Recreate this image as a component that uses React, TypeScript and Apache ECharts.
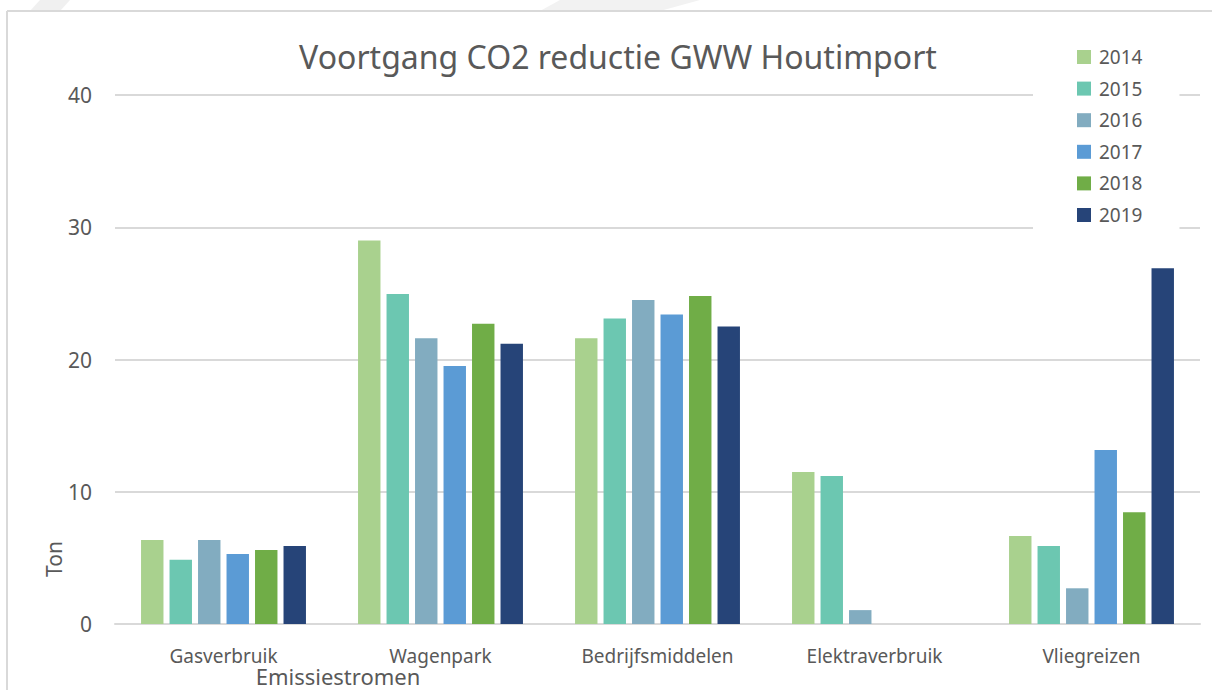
import React, { useEffect, useRef } from "react";
import * as echarts from "echarts";

const categories = ["Gasverbruik", "Wagenpark", "Bedrijfsmiddelen", "Elektraverbruik", "Vliegreizen"];
const years = ["2014", "2015", "2016", "2017", "2018", "2019"];
const v2014 = [6.35, 29.0, 21.6, 11.5, 6.65];
const v2015 = [4.85, 24.95, 23.1, 11.2, 5.9];
const v2016 = [6.35, 21.6, 24.5, 1.05, 2.7];
const v2017 = [5.3, 19.5, 23.4, 0, 13.15];
const v2018 = [5.6, 22.7, 24.8, 0, 8.45];
const v2019 = [5.9, 21.2, 22.5, 0, 26.9];
const seriesValues = [v2014, v2015, v2016, v2017, v2018, v2019];
const colors = ["#a9d18e", "#6cc7b1", "#82acc0", "#5b9bd5", "#70ad47", "#264478"];
const yTicks = [0, 10, 20, 30, 40];

const FONT = "'Noto Sans', 'Open Sans', sans-serif";
const TXT = "#595959";

export default function App() {
  const ref = useRef<HTMLDivElement>(null);
  useEffect(() => {
    if (!ref.current) return;
    const chart = echarts.init(ref.current, undefined, { renderer: "svg" });
    chart.setOption({
      animation: false,
      backgroundColor: "#ffffff",
      textStyle: { fontFamily: FONT },
      title: {
        text: "Voortgang CO2 reductie GWW Houtimport",
        left: 613,
        textAlign: "center",
        top: 35,
        textStyle: { fontFamily: FONT, fontSize: 32, fontWeight: "normal", color: TXT },
      },
      legend: {
        orient: "vertical",
        left: 1033,
        top: 40,
        padding: [7, 37, 10, 44],
        backgroundColor: "#ffffff",
        itemWidth: 14,
        itemHeight: 14,
        itemGap: 11.6,
        icon: "rect",
        data: years,
        textStyle: { fontFamily: FONT, fontSize: 19, color: TXT, lineHeight: 20, padding: [0, 0, 0, 3] },
      },
      grid: { left: 115, right: 12, top: 95, bottom: 66 },
      xAxis: {
        type: "category",
        data: categories,
        axisLine: { lineStyle: { color: "#d9d9d9", width: 2 } },
        axisTick: { show: false },
        axisLabel: { fontFamily: FONT, fontSize: 19, color: TXT, margin: 22 },
      },
      yAxis: {
        type: "value",
        min: yTicks[0],
        max: yTicks[yTicks.length - 1],
        interval: 10,
        axisLine: { show: false },
        axisTick: { show: false },
        axisLabel: { fontFamily: FONT, fontSize: 21, color: TXT, margin: 23 },
        splitLine: { lineStyle: { color: "#d9d9d9", width: 2 } },
      },
      series: years.map((y, i) => ({
        name: y,
        type: "bar",
        data: seriesValues[i],
        itemStyle: { color: colors[i] },
        barGap: "27%",
        barCategoryGap: "24%",
      })),
      graphic: [
        { type: "polygon", silent: true, z: -1, shape: { points: [[40, 0], [70, 0], [60, 11], [30, 11]] }, style: { fill: "#f0f0f0" } },
        { type: "polygon", silent: true, z: -1, shape: { points: [[560, 0], [700, 0], [660, 11], [540, 11]] }, style: { fill: "#f2f2f2" } },
        { type: "line", silent: true, shape: { x1: 7, y1: 11, x2: 1212, y2: 11 }, style: { stroke: "#d9d9d9", lineWidth: 2 } },
        { type: "line", silent: true, shape: { x1: 7, y1: 11, x2: 7, y2: 690 }, style: { stroke: "#d9d9d9", lineWidth: 2 } },
        {
          type: "text",
          x: 54,
          y: 559,
          rotation: Math.PI / 2,
          style: { text: "Ton", fontFamily: FONT, fontSize: 21, fill: TXT, align: "center", verticalAlign: "middle" },
        },
        {
          type: "text",
          x: 338,
          y: 676,
          style: { text: "Emissiestromen", fontFamily: FONT, fontSize: 22, fill: TXT, align: "center", verticalAlign: "middle" },
        },
      ],
    });
    return () => chart.dispose();
  }, []);
  return <div ref={ref} style={{ position: "fixed", left: 0, top: 0, width: 1212, height: 690 }} />;
}
